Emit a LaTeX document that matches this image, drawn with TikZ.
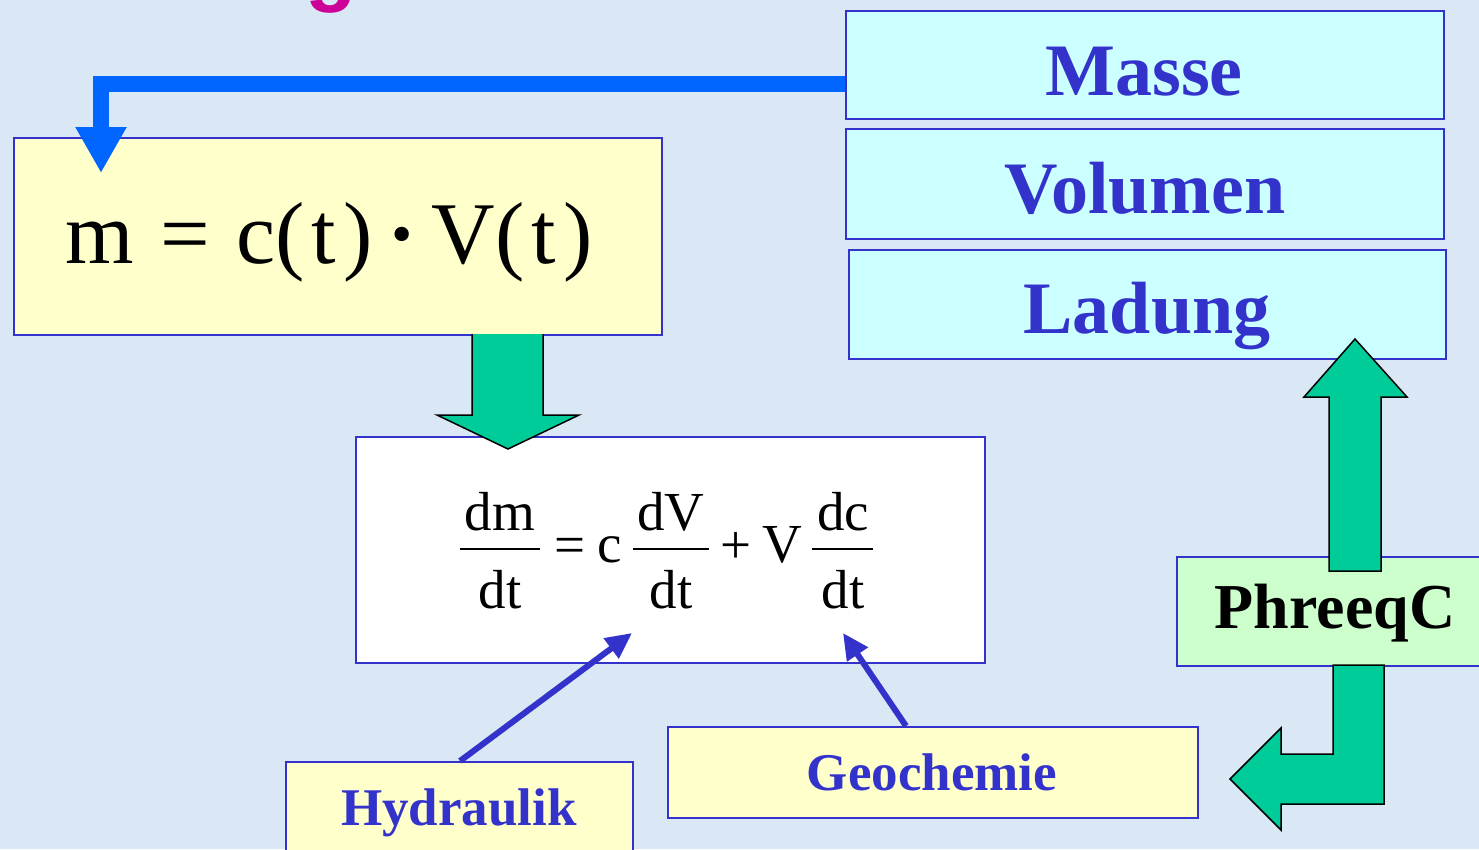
\documentclass[tikz,border=0pt]{standalone}
\usepackage{fontspec}
\setmainfont{Liberation Serif}
\newfontfamily\titlesans{Liberation Sans}
\usetikzlibrary{arrows.meta}
\definecolor{bgblue}{HTML}{DAE7F5}
\definecolor{boxblue}{HTML}{3333CC}
\definecolor{lyellow}{HTML}{FFFFCC}
\definecolor{lcyan}{HTML}{CCFFFF}
\definecolor{lgreen}{HTML}{CCFFCC}
\definecolor{arrowgreen}{HTML}{00CC99}
\definecolor{arrowblue}{HTML}{0066FF}
\definecolor{titlemag}{HTML}{CC0099}
\begin{document}
\begin{tikzpicture}[x=1pt,y=-1pt,
  box/.style={draw=boxblue, line width=1.6pt, inner sep=0pt, anchor=north west},
  biglbl/.style={text=boxblue, font=\bfseries\fontsize{74}{80}\selectfont, anchor=base, inner sep=0pt},
  smalllbl/.style={text=boxblue, font=\bfseries\fontsize{53}{60}\selectfont, anchor=base, inner sep=0pt},
  eqtxt/.style={font=\fontsize{55}{60}\selectfont, anchor=base, inner sep=0pt},
  fracbar/.style={line width=2.4pt},
  garrow/.style={fill=arrowgreen, draw=black, line width=1.5pt, line join=miter},
  thinarrow/.style={draw=boxblue, line width=6pt, -{Triangle[length=26pt,width=24pt]}},
  thickarrow/.style={draw=arrowblue, line width=16pt, -{Triangle[length=46pt,width=48pt]}}
]
\useasboundingbox (0,0) rectangle (1479,849);
\fill[bgblue] (0,0) rectangle (1479,849);

% title fragment
\node[font=\titlesans\bfseries\fontsize{84}{90}\selectfont, text=titlemag, anchor=base, inner sep=0pt] (titleg) at (331,-5) {g};

% boxes
\node[box, fill=lyellow, minimum width=648pt, minimum height=197pt] (eqbox) at (13,137) {};
\node[box, fill=white, minimum width=629pt, minimum height=226pt] (dbox) at (355,436) {};
\node[box, fill=lcyan, minimum width=598pt, minimum height=108pt] (masse) at (845,10) {};
\node[box, fill=lcyan, minimum width=598pt, minimum height=110pt] (volumen) at (845,128) {};
\node[box, fill=lcyan, minimum width=597pt, minimum height=109pt] (ladung) at (848,249) {};
\node[box, fill=lgreen, minimum width=330pt, minimum height=109pt] (phreeqc) at (1176,556) {};
\node[box, fill=lyellow, minimum width=347pt, minimum height=100pt] (hydraulik) at (285,761) {};
\node[box, fill=lyellow, minimum width=530pt, minimum height=91pt] (geochemie) at (667,726) {};

% labels
\node[biglbl] (masseT) at (1144,95) {Masse};
\node[biglbl] (volumenT) at (1145,213) {Volumen};
\node[biglbl] (ladungT) at (1147,333) {Ladung};
\node[font=\bfseries\fontsize{64}{70}\selectfont, anchor=base, inner sep=0pt] (phreeqcT) at (1335,628) {PhreeqC};
\node[smalllbl] (hydraulikT) at (459,825) {Hydraulik};
\node[smalllbl] (geochemieT) at (932,790) {Geochemie};

% main equation
\node[font=\fontsize{88}{95}\selectfont, anchor=base, inner sep=0pt] (eqmain) at (329,263)
  {m\hspace{0.3em}=\hspace{0.3em}c(\hspace{0.08em}t\hspace{0.08em})\hspace{0.17em}{\bfseries ·}\hspace{0.17em}V(\hspace{0.08em}t\hspace{0.08em})};

% differential equation
\node[eqtxt] (n1) at (500,530) {dm};
\node[eqtxt] (d1) at (500,608) {dt};
\draw[fracbar] (460,549) -- (540,549);
\node[eqtxt] (eqsign) at (570,563) {=};
\node[eqtxt] (cfac) at (610,562) {c};
\node[eqtxt] (n2) at (671,530) {dV};
\node[eqtxt] (d2) at (671,608) {dt};
\draw[fracbar] (633,549) -- (709,549);
\node[eqtxt] (plus) at (736,563) {+};
\node[eqtxt] (vfac) at (782,562) {V};
\node[eqtxt] (n3) at (843,530) {dc};
\node[eqtxt] (d3) at (843,608) {dt};
\draw[fracbar] (812,549) -- (873,549);

% thick blue arrow Masse -> equation box
\coordinate (tipm) at (101,173);
\draw[thickarrow] ([yshift=-19pt]masse.west) -| (tipm);

% green block arrow eqbox -> dbox
\fill[arrowgreen] (472,334) -- (543,334) -- (543,415) -- (579,415) -- (508,449) -- (437,415) -- (472,415) -- cycle;
\draw[garrow, fill=none] (472,334) -- (472,415) -- (437,415) -- (508,449) -- (579,415) -- (543,415) -- (543,334);

% green up arrow PhreeqC -> Ladung
\draw[garrow] (1329,571) -- (1381,571) -- (1381,397) -- (1407,397) -- (1355,339) -- (1304,397) -- (1329,397) -- cycle;

% green bent arrow PhreeqC -> Geochemie
\draw[garrow] (1333,665) -- (1384,665) -- (1384,804) -- (1281,804) -- (1281,830) -- (1230,779) -- (1281,728) -- (1281,754) -- (1333,754) -- cycle;

% thin blue arrows
\coordinate (hydtip) at (632,633);
\coordinate (geotip) at (843,633);
\draw[thinarrow] (hydraulik.north -| 460,0) -- (hydtip);
\draw[thinarrow] (geochemie.north -| 906,0) -- (geotip);
\end{tikzpicture}
\end{document}
